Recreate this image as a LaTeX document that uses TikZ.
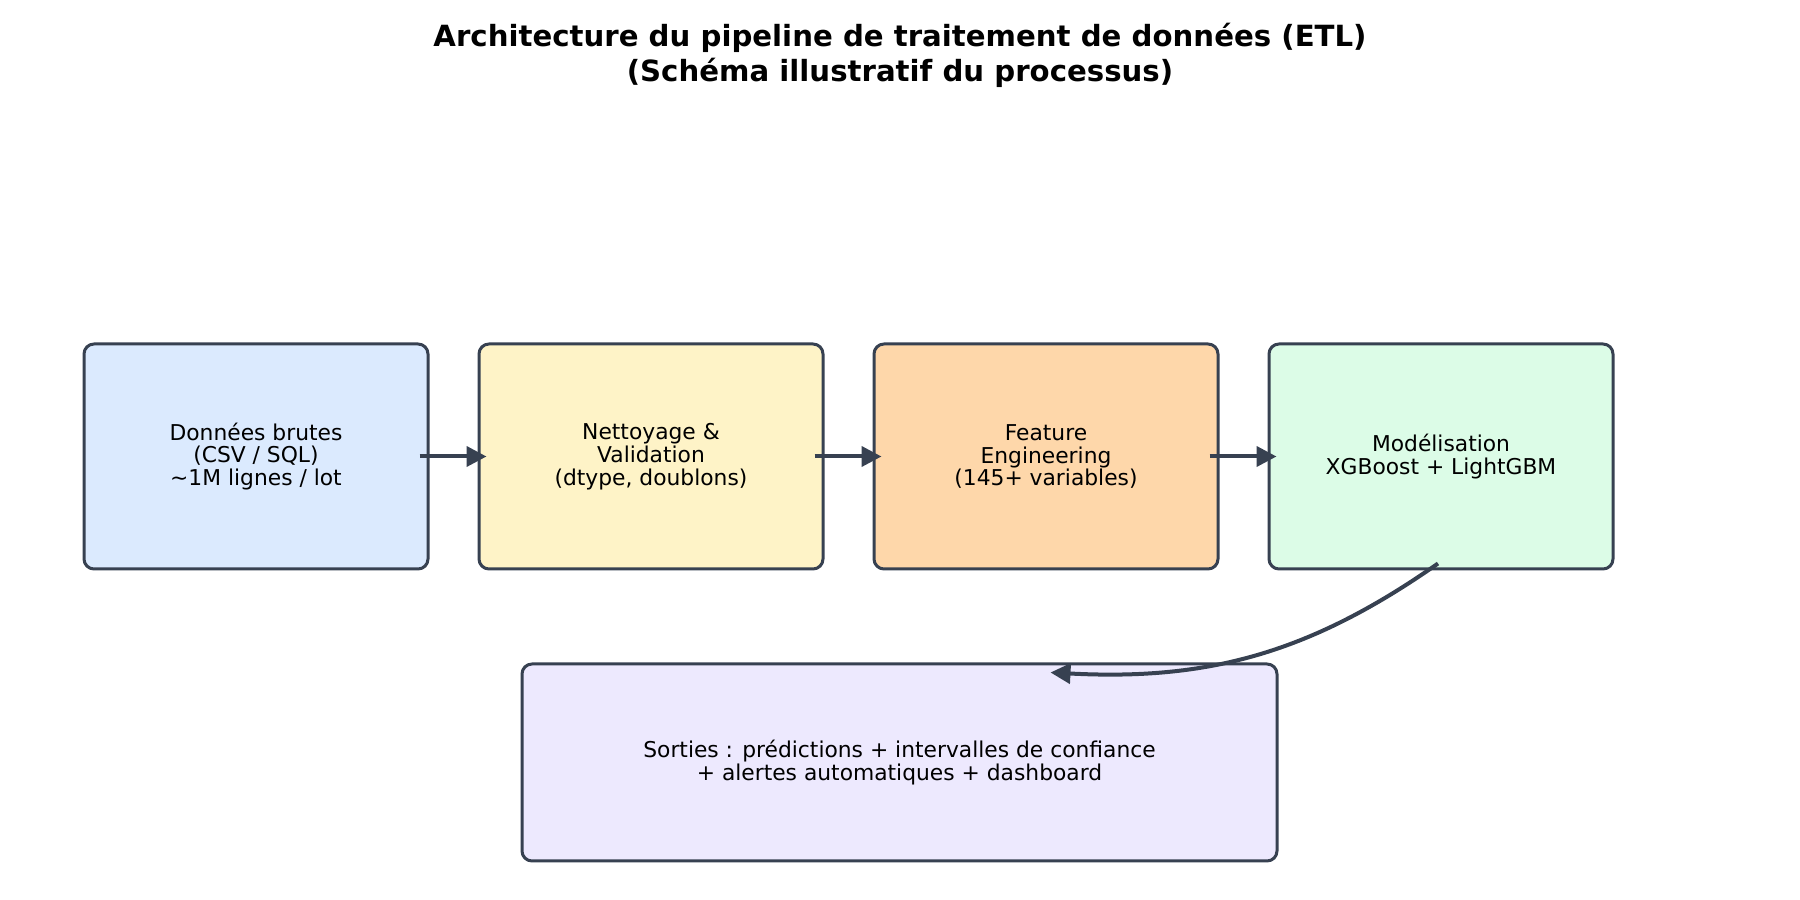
\documentclass[tikz,border=0pt]{standalone}
\usepackage{fontspec}
\setmainfont{DejaVu Sans}
\usetikzlibrary{arrows.meta}
\definecolor{edgec}{HTML}{374151}
\definecolor{c1}{HTML}{DBEAFE}
\definecolor{c2}{HTML}{FEF3C7}
\definecolor{c3}{HTML}{FED7AA}
\definecolor{c4}{HTML}{DCFCE7}
\definecolor{c5}{HTML}{EDE9FE}
\begin{document}
\begin{tikzpicture}[x=0.5pt,y=0.5pt,
  box/.style={draw=edgec, line width=1.5pt, rounded corners=5pt,
    minimum width=172pt, minimum height=112.5pt, align=center,
    font=\fontsize{10.9pt}{11.4pt}\selectfont, inner sep=0pt},
  flow/.style={draw=edgec, line width=2pt, -{Triangle[length=10pt,width=10pt]}},
  ttl/.style={font=\fontsize{14.6pt}{17pt}\selectfont\bfseries, anchor=base, inner sep=0pt}]
\useasboundingbox (0,0) rectangle (1800,900);
\node[ttl] (t1) at (900,853) {Architecture du pipeline de traitement de données (ETL)};
\node[ttl] (t2) at (900,818) {(Schéma illustratif du processus)};

\node[box, fill=c1] (b1) at (256,443.5) {Données brutes\\(CSV / SQL)\\\textasciitilde1M lignes / lot};
\node[box, fill=c2] (b2) at (651,443.5) {Nettoyage \&\\Validation\\(dtype, doublons)};
\node[box, fill=c3] (b3) at (1046,443.5) {Feature\\Engineering\\(145+ variables)};
\node[box, fill=c4] (b4) at (1441,443.5) {Modélisation\\XGBoost + LightGBM};
\node[box, fill=c5, minimum width=377.5pt, minimum height=98.5pt] (b5) at (899.5,137.5)
  {Sorties : prédictions + intervalles de confiance\\+ alertes automatiques + dashboard};

\draw[flow] ([xshift=-5pt]b1.east) -- ([xshift=4.5pt]b2.west);
\draw[flow] ([xshift=-5pt]b2.east) -- ([xshift=4.5pt]b3.west);
\draw[flow] ([xshift=-5pt]b3.east) -- ([xshift=4.5pt]b4.west);
\draw[flow] ([xshift=-1.5pt,yshift=3.5pt]b4.south) to[out=215,in=-3] ([xshift=75.5pt,yshift=-5pt]b5.north);
\end{tikzpicture}
\end{document}
